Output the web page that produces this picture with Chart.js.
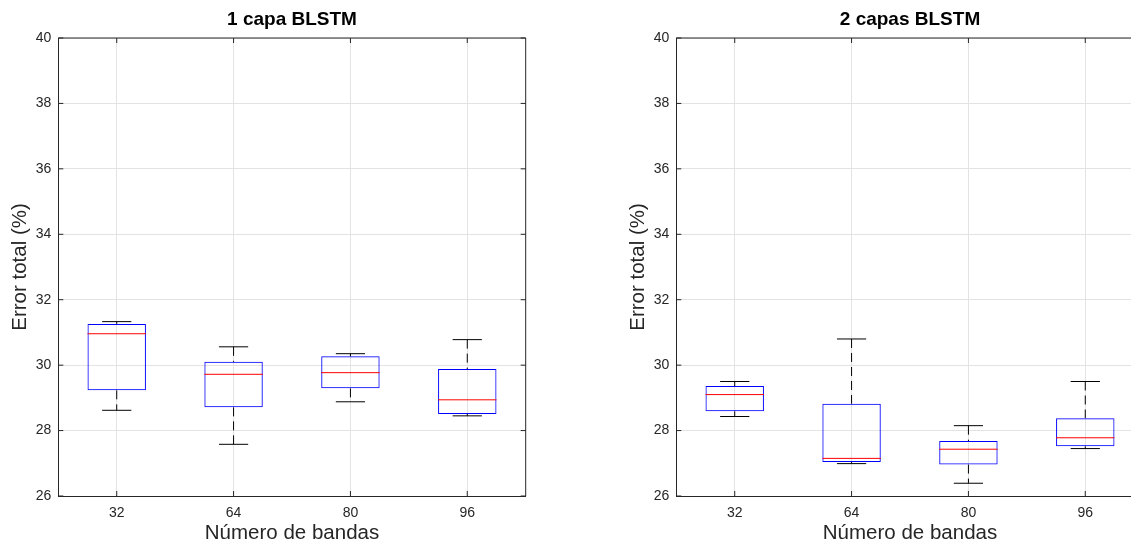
<!DOCTYPE html>
<html lang="es">
<head>
<meta charset="utf-8">
<title>Error total por número de bandas</title>
<script src="https://cdn.jsdelivr.net/npm/chart.js@4.4.1/dist/chart.umd.min.js"></script>
<style>
  html, body { margin: 0; padding: 0; background: #fff; overflow: hidden; width: 1131px; height: 544px; }
  .panel { position: absolute; top: 0; width: 584px; height: 544px; }
  #p1 { left: 0; }
  #p2 { left: 618px; }
</style>
</head>
<body>
<div class="panel" id="p1"><canvas id="g1" width="584" height="544"></canvas></div>
<div class="panel" id="p2"><canvas id="g2" width="584" height="544"></canvas></div>

<script>
// Datos
const bandas = ['32', '64', '80', '96'];
const ticksError = [26, 28, 30, 32, 34, 36, 38, 40];

// 1 capa BLSTM
const capa1Min = [28.62, 27.58, 28.88, 28.45];
const capa1Q1  = [29.23, 28.71, 29.29, 28.51];
const capa1Med = [30.96, 29.72, 29.77, 28.94];
const capa1Q3  = [31.26, 30.10, 30.27, 29.88];
const capa1Max = [31.33, 30.56, 30.35, 30.78];

// 2 capas BLSTM
const capa2Min = [28.43, 26.99, 26.39, 27.45];
const capa2Q1  = [28.59, 27.04, 26.96, 27.52];
const capa2Med = [29.10, 27.15, 27.43, 27.78];
const capa2Q3  = [29.36, 28.82, 27.68, 28.38];
const capa2Max = [29.50, 30.80, 28.15, 29.50];

const FUENTE = "'Liberation Sans', Arial, Helvetica, sans-serif";
const EJE = '#262626';
const REJILLA = '#e3e3e3';

function linea(ctx, x1, y1, x2, y2) {
  ctx.beginPath();
  ctx.moveTo(x1, y1);
  ctx.lineTo(x2, y2);
  ctx.stroke();
}

// bigotes, medianas y marco de los ejes
function plugCajas(s) {
  return {
    id: 'cajas',
    afterDatasetsDraw(chart) {
      const { ctx, scales: { x, y } } = chart;
      const barras = chart.getDatasetMeta(0).data;
      ctx.save();
      ctx.lineWidth = 1;
      barras.forEach((bar, i) => {
        const cx = x.getPixelForValue(i);
        const w = bar.width;
        // bigotes discontinuos
        ctx.strokeStyle = '#000';
        ctx.setLineDash([9, 5]);
        linea(ctx, cx, y.getPixelForValue(s.max[i]), cx, y.getPixelForValue(s.q3[i]));
        linea(ctx, cx, y.getPixelForValue(s.q1[i]), cx, y.getPixelForValue(s.min[i]));
        ctx.setLineDash([]);
        // topes
        linea(ctx, cx - w / 4, y.getPixelForValue(s.max[i]), cx + w / 4, y.getPixelForValue(s.max[i]));
        linea(ctx, cx - w / 4, y.getPixelForValue(s.min[i]), cx + w / 4, y.getPixelForValue(s.min[i]));
        // mediana
        ctx.strokeStyle = '#ff0000';
        linea(ctx, cx - w / 2, y.getPixelForValue(s.med[i]), cx + w / 2, y.getPixelForValue(s.med[i]));
      });
      ctx.restore();
    },
    afterDraw(chart) {
      const { ctx, chartArea: a, scales: { x, y } } = chart;
      ctx.save();
      ctx.strokeStyle = EJE;
      ctx.lineWidth = 1;
      linea(ctx, a.left, a.top, a.right, a.top);
      linea(ctx, a.right, a.top, a.right, a.bottom);
      // marcas hacia dentro
      y.ticks.forEach(t => {
        const py = y.getPixelForValue(t.value);
        linea(ctx, a.left, py, a.left + 5, py);
        linea(ctx, a.right, py, a.right - 5, py);
      });
      bandas.forEach((b, i) => {
        const px = x.getPixelForValue(i);
        linea(ctx, px, a.bottom, px, a.bottom - 5);
        linea(ctx, px, a.top, px, a.top + 5);
      });
      ctx.restore();
    }
  };
}

function crearGrafico(id, titulo, s) {
  new Chart(document.getElementById(id), {
    type: 'bar',
    data: {
      labels: bandas,
      datasets: [{
        data: s.q1.map((v, i) => [v, s.q3[i]]),
        backgroundColor: 'rgba(0,0,0,0)',
        borderColor: '#0000ff',
        borderWidth: 1,
        borderSkipped: false,
        categoryPercentage: 1,
        barPercentage: 0.5
      }]
    },
    options: {
      responsive: false,
      animation: false,
      layout: { padding: { left: 0, right: 58.3, top: 0, bottom: 0 } },
      plugins: {
        legend: { display: false },
        tooltip: { enabled: false },
        title: {
          display: true,
          text: titulo,
          color: '#000',
          fullSize: false, // centrado sobre el área de los ejes
          font: { family: FUENTE, size: 19, weight: 'bold', lineHeight: 1.2 },
          padding: { top: 8.4, bottom: 6.8 }
        }
      },
      scales: {
        x: {
          offset: true,
          grid: { color: REJILLA, offset: false, drawTicks: false },
          border: { color: EJE, width: 1 },
          ticks: { color: EJE, font: { family: FUENTE, size: 14 }, padding: 9 },
          title: {
            display: true,
            text: 'Número de bandas',
            color: EJE,
            font: { family: FUENTE, size: 20.5, lineHeight: 1 },
            padding: { top: 0, bottom: 0 }
          },
          afterFit(sc) { sc.height = 48; }
        },
        y: {
          min: ticksError[0],
          max: ticksError[ticksError.length - 1],
          afterBuildTicks(sc) { sc.ticks = ticksError.map(v => ({ value: v })); },
          grid: { color: REJILLA, drawTicks: false },
          border: { color: EJE, width: 1 },
          ticks: { color: EJE, font: { family: FUENTE, size: 14 }, padding: 7 },
          title: {
            display: true,
            text: 'Error total (%)',
            color: EJE,
            font: { family: FUENTE, size: 20.5, lineHeight: 1.2 },
            padding: { top: 8.5, bottom: 0 }
          },
          afterFit(sc) { sc.width = 58.3; }
        }
      }
    },
    plugins: [plugCajas(s)]
  });
}

crearGrafico('g1', '1 capa BLSTM',
  { min: capa1Min, q1: capa1Q1, med: capa1Med, q3: capa1Q3, max: capa1Max });
crearGrafico('g2', '2 capas BLSTM',
  { min: capa2Min, q1: capa2Q1, med: capa2Med, q3: capa2Q3, max: capa2Max });
</script>
</body>
</html>
